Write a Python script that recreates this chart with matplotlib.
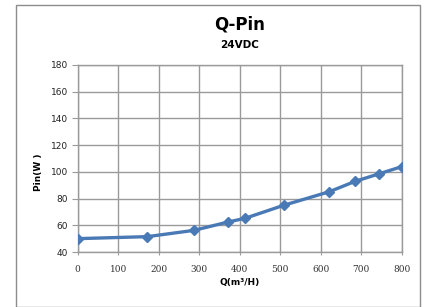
import matplotlib
matplotlib.use("Agg")
import matplotlib.pyplot as plt
from matplotlib.patches import Rectangle

# data
q_flow = [0, 172, 287, 372, 413, 509, 621, 685, 745, 800]
p_in = [50, 51.5, 56.2, 62.5, 65.2, 75, 85.1, 92.9, 98.6, 103.9]

x_ticks = [0, 100, 200, 300, 400, 500, 600, 700, 800]
y_ticks = [40, 60, 80, 100, 120, 140, 160, 180]

W, H = 425, 307
fig = plt.figure(figsize=(W / 100, H / 100), dpi=100)
fig.patch.set_facecolor("white")

# outer chart frame
fig.patches.append(Rectangle((16 / W, 0), 404 / W, 302 / H, transform=fig.transFigure,
                             fill=False, edgecolor="#8c8c8c", linewidth=1))

left, right, top, bottom = 77.7, 401.7, 65, 252
ax = fig.add_axes([left / W, 1 - bottom / H, (right - left) / W, (bottom - top) / H])

ax.plot(q_flow, p_in, color="#4a7ab5", linewidth=2.4, marker="D", markersize=5,
        markerfacecolor="#4a7ab5", markeredgecolor="#4a7ab5", zorder=3)

ax.set_xlim(0, 800)
ax.set_ylim(40, 180)
ax.set_xticks(x_ticks)
ax.set_yticks(y_ticks)
ax.set_xticklabels([str(v) for v in x_ticks], family="DejaVu Serif", fontsize=6.5, color="#333333")
ax.set_yticklabels([str(v) for v in y_ticks], family="DejaVu Sans", fontsize=6.5, color="#222222")
ax.grid(True, color="#9a9a9a", linewidth=1)
ax.set_axisbelow(True)
for s in ax.spines.values():
    s.set_color("#9a9a9a")
    s.set_linewidth(1)
ax.tick_params(axis="y", direction="out", length=4, color="#9a9a9a", pad=3)
ax.tick_params(axis="x", direction="inout", length=5, color="#9a9a9a", pad=7)

fig.text(240 / W, 1 - 25 / H, "Q-Pin", ha="center", va="center", fontsize=12, fontweight="bold")
fig.text(240 / W, 1 - 45 / H, "24VDC", ha="center", va="center", fontsize=7.5, fontweight="bold")
fig.text(38 / W, 1 - 172 / H, "Pin(W )", ha="center", va="center", rotation=90,
         fontsize=6.5, fontweight="bold")
fig.text(240 / W, 1 - 283 / H, "Q(m\u00b3/H)", ha="center", va="center",
         fontsize=6.5, fontweight="bold")

fig.savefig("out.png", dpi=100)
